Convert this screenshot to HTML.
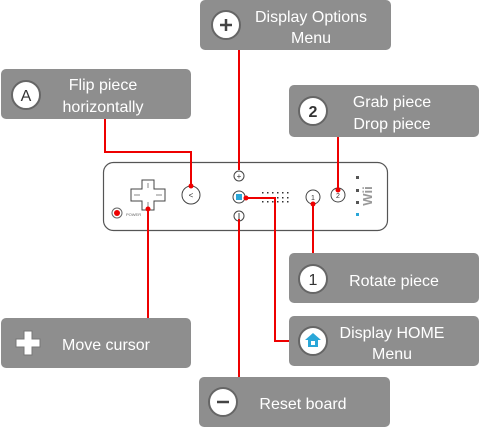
<!DOCTYPE html>
<html><head><style>
html,body{margin:0;padding:0;background:#fff;width:479px;height:428px;overflow:hidden}
text{font-family:"Liberation Sans",sans-serif}
</style></head><body>
<svg width="479" height="428" viewBox="0 0 479 428" xmlns="http://www.w3.org/2000/svg">
<g fill="#8e8e8e">
<rect x="200" y="0" width="191" height="50" rx="5"/>
<rect x="1" y="69" width="190" height="50" rx="5"/>
<rect x="289" y="85" width="190" height="52" rx="5"/>
<rect x="289" y="253" width="190" height="50" rx="5"/>
<rect x="289" y="316" width="190" height="50" rx="5"/>
<rect x="1" y="318" width="190" height="50" rx="5"/>
<rect x="199" y="377" width="191" height="50" rx="5"/>
</g>
<rect x="103.5" y="162.5" width="284" height="68" rx="10" fill="#fff" stroke="#555" stroke-width="1.2"/>
<path d="M142 180h12v9h11v12h-11v9h-12v-9h-11v-12h11z" fill="#fff" stroke="#444" stroke-width="1"/>
<line x1="148" y1="183" x2="148" y2="188" stroke="#888"/><line x1="148" y1="202" x2="148" y2="207" stroke="#888"/>
<line x1="134" y1="195" x2="140" y2="195" stroke="#888"/><line x1="156" y1="195" x2="162" y2="195" stroke="#888"/>
<circle cx="117" cy="213" r="5" fill="#fff" stroke="#666"/><circle cx="117" cy="213" r="3" fill="#e00"/>
<text x="126" y="216" font-size="4" fill="#666">POWER</text>
<circle cx="191" cy="195" r="9" fill="#fff" stroke="#444"/><text x="191" y="198" font-size="8" text-anchor="middle" fill="#333">&lt;</text>
<circle cx="239" cy="176" r="5" fill="#fff" stroke="#444"/><text x="239" y="179" font-size="8" text-anchor="middle" fill="#333">+</text>
<circle cx="239" cy="197" r="6" fill="#fff" stroke="#444"/><rect x="236" y="194" width="6" height="6" fill="#2aa7d8"/>
<circle cx="239" cy="216" r="5" fill="#fff" stroke="#444"/><line x1="239" y1="213" x2="239" y2="219" stroke="#444"/>
<g fill="#333">
<rect x="262" y="192" width="1.5" height="1.5"/><rect x="267" y="192" width="1.5" height="1.5"/><rect x="272" y="192" width="1.5" height="1.5"/><rect x="277" y="192" width="1.5" height="1.5"/><rect x="282" y="192" width="1.5" height="1.5"/><rect x="287" y="192" width="1.5" height="1.5"/>
<rect x="277" y="197" width="1.5" height="1.5"/><rect x="282" y="197" width="1.5" height="1.5"/><rect x="287" y="197" width="1.5" height="1.5"/>
<rect x="262" y="201" width="1.5" height="1.5"/><rect x="267" y="201" width="1.5" height="1.5"/><rect x="272" y="201" width="1.5" height="1.5"/><rect x="277" y="201" width="1.5" height="1.5"/><rect x="282" y="201" width="1.5" height="1.5"/><rect x="287" y="201" width="1.5" height="1.5"/>
</g>
<circle cx="313" cy="197" r="7" fill="#fff" stroke="#444"/><text x="313" y="200" font-size="7" text-anchor="middle" fill="#333">1</text>
<circle cx="338" cy="195" r="7" fill="#fff" stroke="#444"/><text x="338" y="198" font-size="7" text-anchor="middle" fill="#333">2</text>
<g fill="#555"><rect x="356" y="176" width="3" height="3"/><rect x="356" y="189" width="3" height="3"/><rect x="356" y="201" width="3" height="3"/></g>
<rect x="356" y="213" width="3" height="3" fill="#2aa7d8"/>
<text x="372" y="196" font-size="13" font-weight="bold" fill="#999" transform="rotate(-90 372 196)" text-anchor="middle">Wii</text>
<g stroke="#e00" stroke-width="2" fill="none">
<line x1="239" y1="50" x2="239" y2="170"/>
<polyline points="105,119 105,152 191,152 191,186"/>
<line x1="338" y1="137" x2="338" y2="190"/>
<line x1="148" y1="209" x2="148" y2="318"/>
<line x1="239" y1="219" x2="239" y2="377"/>
<polyline points="246,198 275,198 275,341 289,341"/>
<line x1="313" y1="204" x2="313" y2="253"/>
</g>
<g fill="#e00"><circle cx="191" cy="186" r="2.5"/><circle cx="338" cy="190" r="2.5"/><circle cx="148" cy="209" r="2.5"/><circle cx="246" cy="198" r="2.5"/><circle cx="313" cy="204" r="2.5"/></g>
<g fill="#fff" stroke="#666" stroke-width="2">
<circle cx="226" cy="25" r="14"/><circle cx="26" cy="95" r="14"/><circle cx="313" cy="111" r="14"/>
<circle cx="313" cy="279" r="14"/><circle cx="313" cy="341" r="14"/><circle cx="223" cy="402" r="14"/>
</g>
<g stroke="#444" stroke-width="2.5"><line x1="220" y1="25" x2="232" y2="25"/><line x1="226" y1="19" x2="226" y2="31"/><line x1="217" y1="402" x2="229" y2="402"/></g>
<text x="26" y="101" font-size="16" text-anchor="middle" fill="#333">A</text>
<text x="313" y="117" font-size="16" text-anchor="middle" fill="#333" font-weight="bold">2</text>
<text x="313" y="285" font-size="16" text-anchor="middle" fill="#333">1</text>
<path d="M313 333l-8 7h3v7h10v-7h3z" fill="#2aa7d8"/><rect x="311" y="341" width="4" height="4" fill="#fff"/>
<path d="M24 331h8v8h8v8h-8v8h-8v-8h-8v-8h8z" fill="#fff" stroke="#777" stroke-width="1"/>
<g fill="#fff" font-size="16" text-anchor="middle">
<text x="311" y="22">Display Options</text><text x="311" y="43">Menu</text>
<text x="103" y="90">Flip piece</text><text x="103" y="112">horizontally</text>
<text x="392" y="107">Grab piece</text><text x="392" y="129">Drop piece</text>
<text x="394" y="286">Rotate piece</text>
<text x="392" y="338">Display HOME</text><text x="392" y="359">Menu</text>
<text x="106" y="350">Move cursor</text>
<text x="303" y="409">Reset board</text>
</g>
</svg>
</body></html>
